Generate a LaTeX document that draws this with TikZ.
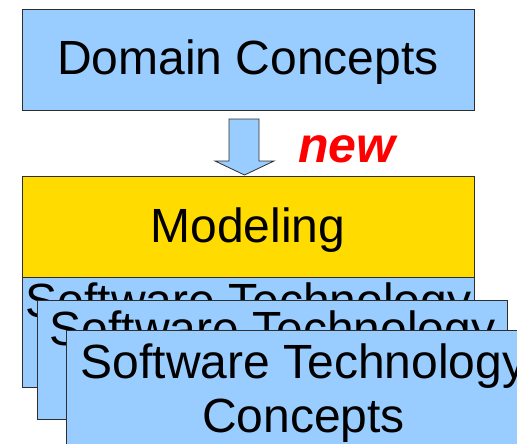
\documentclass[tikz,border=0pt]{standalone}
\usepackage{fontspec}
\setmainfont{Liberation Sans}
\definecolor{paleblue}{HTML}{99CCFF}
\definecolor{gold}{HTML}{FFDB00}
\definecolor{edge}{HTML}{2E2E2E}
\begin{document}
\begin{tikzpicture}[x=1pt, y=-1pt,
  layer/.style={draw=edge, line width=1pt, inner sep=0pt, anchor=north west,
    align=center, font=\fontsize{48}{54}\selectfont},
  caption/.style={inner sep=0pt, anchor=base, font=\fontsize{48}{54}\selectfont},
  flowarrow/.style={draw=edge, line width=0.8pt, fill=paleblue, line join=miter}]
  \clip (0,0) rectangle (517,444);

  % top box
  \node[layer, fill=paleblue, minimum width=452pt, minimum height=101pt] (dom) at (22,9) {};
  \node[caption] (domtext) at (248,75) {Domain Concepts};

  % block arrow down to the modelling layer
  \coordinate (arrtop) at (244,119);
  \draw[flowarrow] (arrtop) ++(-15,0) -- ++(30,0) -- ++(0,42) -- ++(15,0)
    -- ++(-29.5,14) -- ++(-29.5,-14) -- ++(14,0) -- cycle;

  \node[inner sep=0pt, anchor=base, text=red,
    font=\fontsize{50}{56}\selectfont\bfseries\itshape] (new) at (347,162) {new};

  % modelling layer
  \node[layer, fill=gold, minimum width=452pt, minimum height=100.5pt] (mod) at (22,176) {};
  \node[caption] (modtext) at (248,242) {Modeling};

  % stacked technology layers
  \node[layer, fill=paleblue, minimum width=452pt, minimum height=110pt] (sw1) at (22,276.5)
    {Software Technology\\Concepts};
  \node[layer, fill=paleblue, minimum width=470pt, minimum height=118.5pt] (sw2) at (37,300)
    {Software Technology\\Concepts};
  \node[layer, fill=paleblue, minimum width=474pt, minimum height=125pt] (sw3) at (66,330)
    {Software Technology\\Concepts};
\end{tikzpicture}
\end{document}
